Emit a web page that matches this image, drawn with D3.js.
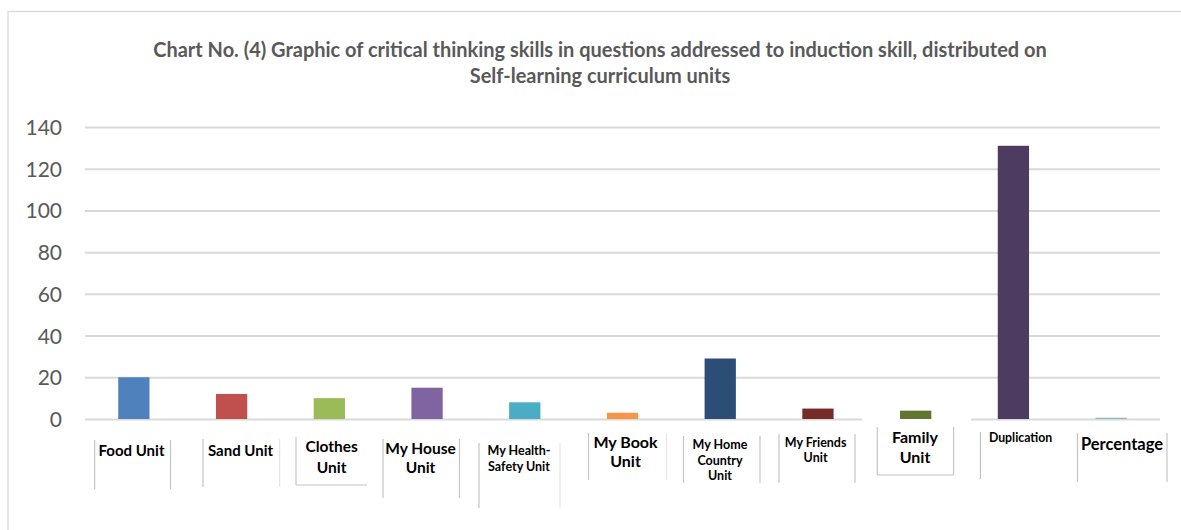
<!DOCTYPE html>
<html><head><meta charset="utf-8">
<script src="https://cdn.jsdelivr.net/npm/d3@7"></script>
<style>html,body{margin:0;padding:0;background:#fff;}svg{display:block;}</style>
</head><body>
<script>
// ---- data ----
const titleLines = ["Chart No. (4) Graphic of critical thinking skills in questions addressed to induction skill, distributed on",
                    "Self-learning curriculum units"];
const categories = ["Food Unit","Sand Unit","Clothes\nUnit","My House\nUnit","My Health-\nSafety Unit","My Book\nUnit",
                    "My Home\nCountry\nUnit","My Friends\nUnit","Family\nUnit","Duplication","Percentage"];
const values = [20, 12, 10, 15, 8, 3, 29, 5, 4, 131, 0.6];
const barColors = ["#4f81bd","#c0504d","#9bbb59","#8064a2","#4bacc6","#f79646","#2c4d75","#772c2a","#5f7530","#4d3b62","#8fb5be"];
const yTicks = [0, 20, 40, 60, 80, 100, 120, 140];

// ---- layout of the label cells under the axis (decoration only) ----
const cells = [
  {cx:131.5, b:[456], fs:15, L:94.6, R:170.5, top:440, bot:489},
  {cx:240.5, b:[456], fs:15, L:203, R:279.7, rc:"#e3e3e3", top:439, bot:487},
  {cx:331.7, b:[452,472.6], fs:15.5, L:296, R:null, top:437, bot:485, under:367},
  {cx:420.5, b:[454,472.7], fs:15.5, L:383, R:459.5, top:439, bot:498},
  {cx:519, b:[455,471], fs:12.5, L:479, R:560, rc:"#e6e6e6", top:443, bot:508},
  {cx:625.5, b:[448,466.7], fs:16, L:588.5, R:666.5, rc:"#e6e6e6", top:433, bot:480},
  {cx:720, b:[449,465,479.5], fs:12.5, L:683.5, R:760, top:436, bot:483},
  {cx:815.6, b:[446.7,462.3], fs:12.5, L:779, R:855, top:434, bot:482.7},
  {cx:915, b:[442.7,463.3], fs:16, L:877.3, R:953.6, top:427, bot:475, under:953.6, cover:[862,971]},
  {cx:1020.6, b:[442.3], fs:12.3, L:980.4, R:null, top:432, bot:479},
  {cx:1122, b:[450], fs:16.5, L:1077.5, R:1167, top:433, bot:482}
];

const W = 1181, H = 530;
const svg = d3.select("body").append("svg").attr("width", W).attr("height", H);
const font = "Lato, 'Open Sans', sans-serif";

// outer frame
svg.append("rect").attr("x", 8).attr("y", 11.5).attr("width", W + 20).attr("height", H + 20)
  .attr("fill", "#fff").attr("stroke", "#d9d9d9").attr("stroke-width", 1.3);

// title
const title = svg.append("g").attr("font-family", font).attr("font-weight", 700).attr("fill", "#595959")
  .attr("text-anchor", "middle");
const t1 = title.append("text").attr("x", 600).attr("y", 57).attr("font-size", 17).text(titleLines[0]);
const len = t1.node().getComputedTextLength();
const fs = 17 * 894 / len;
t1.attr("font-size", fs);
title.append("text").attr("x", 600).attr("y", 83).attr("font-size", fs).text(titleLines[1]);

// scales
const x = d3.scaleBand().domain(categories).range([85, 1160]).paddingInner(0.68).paddingOuter(0.34);
const y = d3.scaleLinear().domain([0, 140]).range([419, 127]);

// gridlines via axis
const grid = svg.append("g").attr("transform", "translate(85,0)")
  .call(d3.axisLeft(y).tickValues(yTicks).tickSize(-1075).tickFormat(""));
grid.select(".domain").remove();
grid.selectAll("line").attr("stroke", "#d9d9d9").attr("stroke-width", 2);

// y labels
const yl = svg.append("g").attr("transform", "translate(62,0)")
  .call(d3.axisLeft(y).tickValues(yTicks).tickSize(0).tickPadding(0));
yl.select(".domain").remove();
yl.selectAll("text").attr("font-family", font).attr("font-size", 21).attr("fill", "#595959")
  .attr("dy", "0.36em").attr("text-anchor", "end").attr("x", 0);

// white patches over the zero line (pasted label box)
cells.forEach(c => {
  if (c.cover) svg.append("rect").attr("x", c.cover[0]).attr("y", 416).attr("width", c.cover[1] - c.cover[0]).attr("height", 8).attr("fill", "#fff");
});

// bars
svg.append("g").selectAll("rect").data(values).join("rect")
  .attr("x", (d, i) => x(categories[i]))
  .attr("width", x.bandwidth())
  .attr("y", d => y(d))
  .attr("height", d => y(0) - y(d))
  .attr("fill", (d, i) => barColors[i]);

// category labels in cells
const lab = svg.append("g");
categories.forEach((cat, i) => {
  const c = cells[i];
  lab.append("line").attr("x1", c.L).attr("x2", c.L).attr("y1", c.top).attr("y2", c.bot)
    .attr("stroke", "#c4c4c4").attr("stroke-width", 1.2);
  if (c.R) lab.append("line").attr("x1", c.R).attr("x2", c.R).attr("y1", c.top).attr("y2", c.bot)
    .attr("stroke", c.rc || "#c4c4c4").attr("stroke-width", 1.2);
  if (c.under) lab.append("line").attr("x1", c.L).attr("x2", c.under).attr("y1", c.bot).attr("y2", c.bot)
    .attr("stroke", "#c4c4c4").attr("stroke-width", 1.2);
  cat.split("\n").forEach((ln, k) => {
    lab.append("text").attr("x", c.cx).attr("y", c.b[k]).attr("text-anchor", "middle")
      .attr("font-family", font).attr("font-weight", 700).attr("font-size", c.fs).attr("fill", "#000").text(ln);
  });
});
</script>
</body></html>
